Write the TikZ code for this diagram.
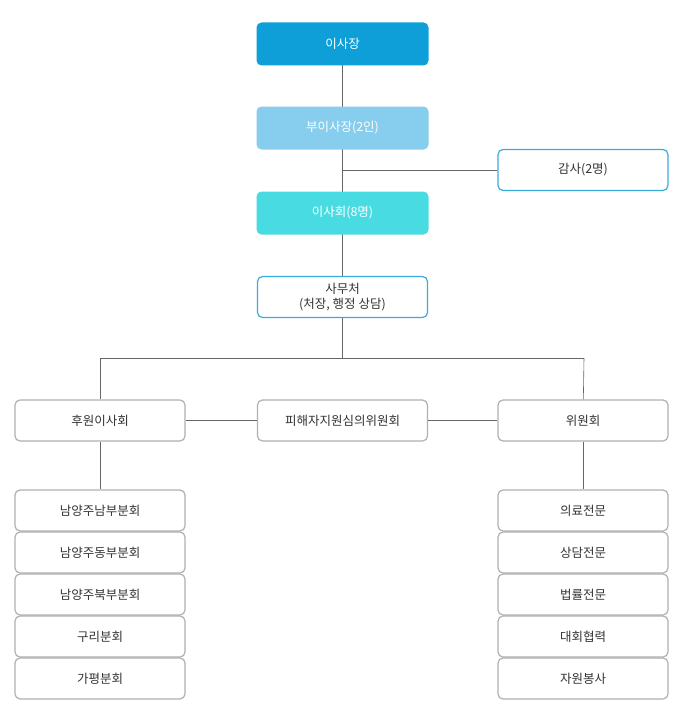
\documentclass[tikz,border=0pt]{standalone}
\usepackage{fontspec}
\setmainfont{Noto Sans CJK KR}
\begin{document}
\begin{tikzpicture}[x=1pt, y=-1pt,
    box/.style={draw=#1, line width=1.2pt, fill=white, minimum width=170pt, minimum height=41pt, rounded corners=5pt, align=center, font=\fontsize{12.5}{15}\selectfont, text=black!80},
    head/.style={fill=#1, draw=none, minimum width=172pt, minimum height=43pt, rounded corners=5pt, align=center, font=\fontsize{12.5}{15}\selectfont, text=white},
    link/.style={draw=black!60, line width=0.6pt}
]
    \definecolor{topblue}{HTML}{0E9FD8}
    \definecolor{lightblue}{HTML}{87CDEE}
    \definecolor{cyanbox}{HTML}{48DCE2}
    \definecolor{edgeblue}{HTML}{3AACDC}
    \definecolor{edgegray}{HTML}{B0B0B0}
    \useasboundingbox (0,0) rectangle (684,709);

    % spine
    \coordinate (spinetop) at (342.5,44);
    \coordinate (auditjoin) at (342.5,170);
    \coordinate (split) at (342.5,358);
    \coordinate (splitleft) at (100,358);
    \coordinate (splitright) at (584,358);
    \draw[link] (spinetop) -- (split);
    \draw[link] (splitleft) -- (splitright);

    \node[head=topblue] (chair) at (342.5,44) {이사장};
    \node[head=lightblue] (vice) at (342.5,128) {부이사장(2인)};
    \node[box=edgeblue] (audit) at (583,170) {감사(2명)};
    \node[head=cyanbox] (board) at (342.5,213) {이사회(8명)};
    \node[box=edgeblue] (office) at (342.5,297) {사무처\\(처장, 행정 상담)};

    \node[box=edgegray] (sponsor) at (100,420.5) {후원이사회};
    \node[box=edgegray] (victim) at (342.5,420.5) {피해자지원심의위원회};
    \node[box=edgegray] (committee) at (583,420.5) {위원회};

    \draw[link] (auditjoin) -- (audit);
    \draw[link] (sponsor) -- (victim);
    \draw[link] (victim) -- (committee);
    \draw[link] (splitleft) -- (sponsor);
    \draw[link] (splitright) -- (committee);

    \foreach \name [count=\i] in {남양주남부분회, 남양주동부분회, 남양주북부분회, 구리분회, 가평분회}
        \node[box=edgegray] (branch\i) at (100,{510.5+42*(\i-1)}) {\name};
    \foreach \name [count=\i] in {의료전문, 상담전문, 법률전문, 대회협력, 자원봉사}
        \node[box=edgegray] (expert\i) at (583,{510.5+42*(\i-1)}) {\name};

    \draw[link] (sponsor) -- (branch1);
    \draw[link] (committee) -- (expert1);
\end{tikzpicture}
\end{document}
